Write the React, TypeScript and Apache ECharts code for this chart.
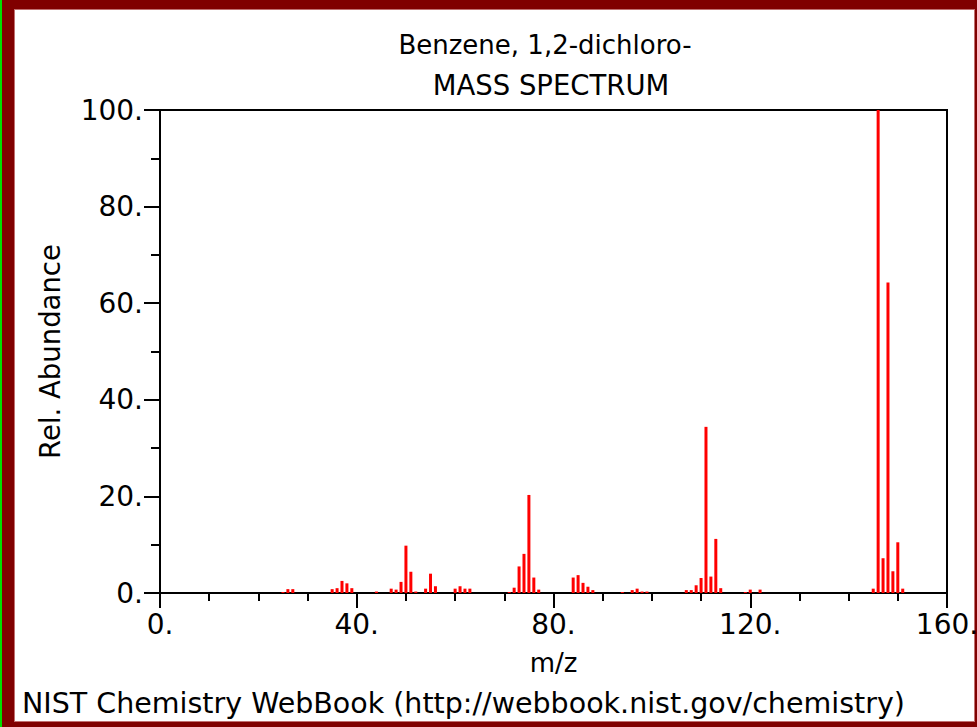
import React, { useEffect, useRef } from "react";
import * as echarts from "echarts";

const titleLines = ["Benzene, 1,2-dichloro-", "MASS SPECTRUM"];
const footerText = "NIST Chemistry WebBook (http://webbook.nist.gov/chemistry)";
const xName = "m/z";
const yName = "Rel. Abundance";

const mz = [
  25, 26, 27, 35, 36, 37, 38, 39, 44, 47, 48, 49, 50, 51, 52, 54, 55, 56, 60, 61,
  62, 63, 71, 72, 73, 74, 75, 76, 77, 84, 85, 86, 87, 88, 94, 96, 97, 98, 99, 107,
  108, 109, 110, 111, 112, 113, 114, 119, 120, 122, 145, 146, 147, 148, 149, 150, 151,
];
const abundance = [
  0.2, 0.8, 0.8, 0.8, 1.0, 2.5, 2.0, 1.0, 0.3, 0.9, 0.7, 2.3, 9.8, 4.4, 0.3, 0.9, 4.0, 1.4, 0.9, 1.4,
  0.9, 0.9, 0.2, 1.1, 5.5, 8.1, 20.3, 3.2, 0.7, 3.2, 3.7, 2.1, 1.3, 0.6, 0.2, 0.6, 0.9, 0.3, 0.3, 0.6,
  0.6, 1.6, 3.1, 34.4, 3.4, 11.2, 1.0, 0.2, 0.7, 0.7, 0.9, 100, 7.2, 64.3, 4.5, 10.5, 0.9,
];
const xRange = [0, 160];
const xStep = 40;
const yRange = [0, 100];
const yStep = 20;

export default function App() {
  const ref = useRef<HTMLDivElement>(null);
  useEffect(() => {
    document.body.style.margin = "0";
    const chart = echarts.init(ref.current as HTMLDivElement, null, { renderer: "svg" });
    const font = "DejaVu Sans";
    const black = "#000";
    chart.setOption({
      animation: false,
      textStyle: { fontFamily: font },
      graphic: [
        {
          type: "text",
          x: 545,
          y: 45,
          style: { text: titleLines[0], fill: black, font: `26px '${font}'`, align: "center", verticalAlign: "middle" },
        },
        {
          type: "text",
          x: 551,
          y: 85,
          style: { text: titleLines[1], fill: black, font: `27.5px '${font}'`, align: "center", verticalAlign: "middle" },
        },
        {
          type: "text",
          x: 22,
          y: 703,
          style: { text: footerText, fill: black, font: `28.5px '${font}'`, align: "left", verticalAlign: "middle" },
        },
      ],
      grid: {
        left: 160,
        right: 30,
        top: 110,
        bottom: 134,
        show: true,
        borderColor: black,
        borderWidth: 2,
        backgroundColor: "transparent",
        containLabel: false,
        outerBoundsMode: "none",
      },
      xAxis: {
        type: "value",
        min: xRange[0],
        max: xRange[1],
        interval: xStep,
        name: xName,
        nameLocation: "middle",
        nameGap: 57,
        nameTextStyle: { fontSize: 26, color: black, fontFamily: font },
        axisLine: { lineStyle: { color: black, width: 2 } },
        axisTick: { length: 15, lineStyle: { color: black, width: 2 } },
        minorTick: { show: true, splitNumber: 4, length: 8, lineStyle: { color: black, width: 2 } },
        axisLabel: {
          fontSize: 28,
          color: black,
          fontFamily: font,
          margin: 17,
          showMinLabel: true,
          showMaxLabel: true,
          formatter: (v: number) => `${v}.`,
        },
        splitLine: { show: false },
        minorSplitLine: { show: false },
      },
      yAxis: {
        type: "value",
        min: yRange[0],
        max: yRange[1],
        interval: yStep,
        name: yName,
        nameLocation: "middle",
        nameGap: 96,
        nameTextStyle: { fontSize: 27.5, color: black, fontFamily: font },
        axisLine: { lineStyle: { color: black, width: 2 } },
        axisTick: { length: 16, lineStyle: { color: black, width: 2 } },
        minorTick: { show: true, splitNumber: 2, length: 9, lineStyle: { color: black, width: 2 } },
        axisLabel: {
          fontSize: 28,
          color: black,
          fontFamily: font,
          margin: 17,
          formatter: (v: number) => `${v}.`,
        },
        splitLine: { show: false },
        minorSplitLine: { show: false },
      },
      series: [
        {
          type: "bar",
          barWidth: 3,
          data: mz.map((m, i) => [m, abundance[i]]),
          itemStyle: { color: "#ff0000" },
          silent: true,
        },
      ],
    });
    return () => chart.dispose();
  }, []);

  return (
    <div style={{ position: "absolute", left: 0, top: 0, width: 977, height: 727, background: "#800000" }}>
      <div style={{ position: "absolute", left: 0, top: 0, width: 2, height: 727, background: "#00dd00" }} />
      <div
        style={{
          position: "absolute",
          left: 15,
          top: 10,
          width: 959,
          height: 711,
          background: "#ffffff",
          boxShadow: "0 0 0 1px #c07070",
        }}
      />
      <div ref={ref} style={{ position: "absolute", left: 0, top: 0, width: 977, height: 727 }} />
    </div>
  );
}
